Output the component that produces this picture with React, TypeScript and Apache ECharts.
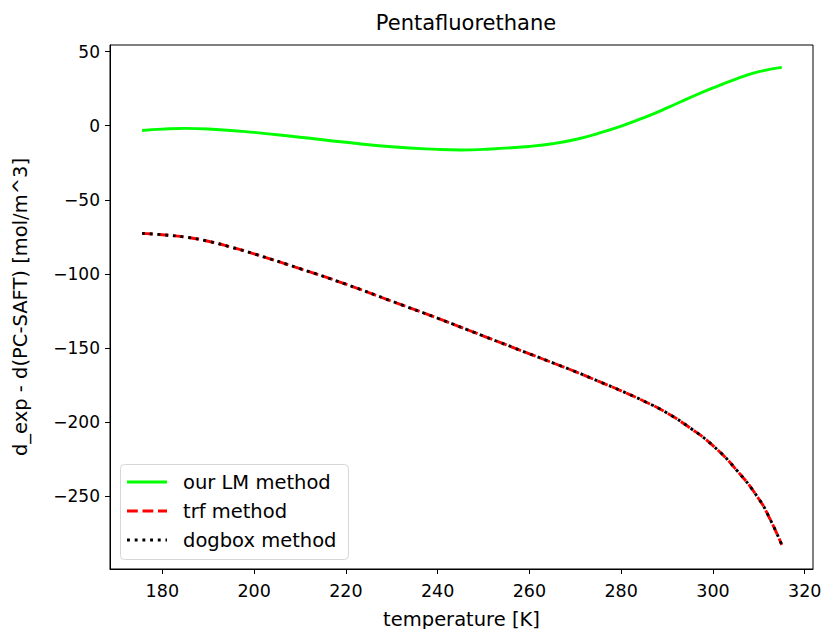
import React, { useEffect, useRef } from "react";
import * as echarts from "echarts";

const lmTemps = [175.6, 180, 185, 190, 200, 210, 220, 230, 240, 245, 250, 260, 265, 270, 275, 280, 285, 290, 295, 300, 305, 310, 315];
const lmValues = [-3.2, -2.3, -1.8, -2.2, -4.5, -7.8, -11.2, -14.2, -16.0, -16.4, -16.0, -14.0, -12.2, -9.3, -5.2, -0.3, 5.5, 12, 19, 25.5, 31.5, 36.5, 39.4];

const trfTemps = [175.6, 180, 185, 190, 195, 200, 210, 220, 230, 240, 250, 260, 265, 270, 275, 280, 285, 290, 295, 300, 305, 310, 312.5, 315];
const trfValues = [-72.7, -73.6, -75.2, -78, -82, -86.5, -96.5, -107, -118.5, -130, -142, -154, -160, -166, -172.5, -179, -186, -194, -204, -216, -232, -252, -266, -283];
const dogboxValues = [-72.7, -73.6, -75.2, -78, -82, -86.5, -96.5, -107, -118.5, -130, -142, -154, -160, -166, -172.5, -179, -186, -194, -204, -216, -232, -252, -266, -283];

const seriesNames = ["our LM method", "trf method", "dogbox method"];
const xTicks = [180, 200, 220, 240, 260, 280, 300, 320];
const yTicks = [-250, -200, -150, -100, -50, 0, 50];

const FONT = "DejaVu Sans";
const GREEN = "#00ff00";
const RED = "#ff0000";
const BLACK = "#000000";
const LW = 2.9;
const RED_DASH = [10.8, 4.7];
const BLACK_DOT = [2.9, 4.8];

function pairs(xs: number[], ys: number[]) {
  return xs.map((x, i) => [x, ys[i]]);
}

export default function App() {
  const ref = useRef<HTMLDivElement>(null);
  useEffect(() => {
    if (!ref.current) return;
    const chart = echarts.init(ref.current, undefined, { renderer: "svg" });
    const fmt = (v: number) => String(v).replace("-", "\u2212");
    const legendRows = [
      { name: seriesNames[0], color: GREEN, dash: undefined as number[] | undefined },
      { name: seriesNames[1], color: RED, dash: RED_DASH },
      { name: seriesNames[2], color: BLACK, dash: BLACK_DOT },
    ];
    const legendEls: any[] = [
      {
        type: "rect",
        shape: { x: 120.5, y: 464.5, width: 228, height: 95, r: 4 },
        style: { fill: "rgba(255,255,255,0.8)", stroke: "#d6d6d6", lineWidth: 1 },
        z: 100,
      },
    ];
    legendRows.forEach((r, i) => {
      const y = 482 + i * 29;
      legendEls.push({
        type: "line",
        shape: { x1: 127, y1: y, x2: 167, y2: y },
        style: { stroke: r.color, lineWidth: LW, lineDash: r.dash, lineCap: "butt" },
        z: 101,
      });
      legendEls.push({
        type: "text",
        x: 183,
        y: y,
        style: {
          text: r.name,
          fontFamily: FONT,
          fontSize: 19.5,
          fill: "#000",
          verticalAlign: "middle",
          align: "left",
        },
        z: 101,
      });
    });
    chart.setOption({
      animation: false,
      backgroundColor: "#fff",
      textStyle: { fontFamily: FONT },
      title: {
        text: "Pentafluorethane",
        left: 461,
        textAlign: "center",
        top: 7,
        textStyle: { fontFamily: FONT, fontSize: 21, fontWeight: "normal", color: "#000" },
      },
      grid: {
        left: 110,
        right: 11,
        top: 45,
        bottom: 60,
        outerBoundsMode: "none",
        containLabel: false,
        show: true,
        borderColor: "#000",
        borderWidth: 1,
        backgroundColor: "transparent",
      },
      graphic: legendEls,
      xAxis: {
        type: "value",
        min: 168.6,
        max: 321.8,
        name: "temperature [K]",
        nameLocation: "middle",
        nameGap: 40,
        nameTextStyle: { fontFamily: FONT, fontSize: 19.5, color: "#000" },
        axisLine: { show: true, onZero: false, lineStyle: { color: "#000", width: 1 } },
        axisTick: { show: true, length: 5, lineStyle: { color: "#000" }, customValues: xTicks },
        axisLabel: { fontFamily: FONT, fontSize: 17.5, color: "#000", margin: 13, customValues: xTicks, formatter: fmt },
        splitLine: { show: false },
      },
      yAxis: {
        type: "value",
        min: -299.3,
        max: 54.5,
        name: "d_exp - d(PC-SAFT) [mol/m^3]",
        nameLocation: "middle",
        nameGap: 80,
        nameTextStyle: { fontFamily: FONT, fontSize: 19.5, color: "#000" },
        axisLine: { show: true, onZero: false, lineStyle: { color: "#000", width: 1 } },
        axisTick: { show: true, length: 5, lineStyle: { color: "#000" }, customValues: yTicks },
        axisLabel: { fontFamily: FONT, fontSize: 17, color: "#000", margin: 10, customValues: yTicks, formatter: fmt },
        splitLine: { show: false },
      },
      series: [
        {
          name: seriesNames[0],
          type: "line",
          smooth: true,
          symbol: "none",
          data: pairs(lmTemps, lmValues),
          lineStyle: { color: GREEN, width: LW },
          itemStyle: { color: GREEN },
        },
        {
          name: seriesNames[1],
          type: "line",
          smooth: true,
          symbol: "none",
          data: pairs(trfTemps, trfValues),
          lineStyle: { color: RED, width: LW, type: RED_DASH },
          itemStyle: { color: RED },
        },
        {
          name: seriesNames[2],
          type: "line",
          smooth: true,
          symbol: "none",
          data: pairs(trfTemps, dogboxValues),
          lineStyle: { color: BLACK, width: LW, type: BLACK_DOT },
          itemStyle: { color: BLACK },
        },
      ],
    });
    return () => chart.dispose();
  }, []);
  return <div ref={ref} style={{ width: 824, height: 629, position: "absolute", left: 0, top: 0 }} />;
}
